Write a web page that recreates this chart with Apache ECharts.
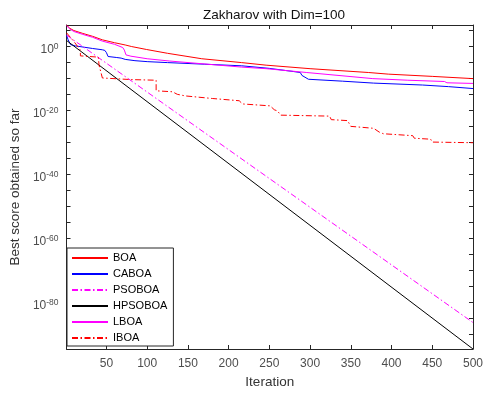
<!DOCTYPE html>
<html>
<head>
<meta charset="utf-8">
<script src="https://cdn.jsdelivr.net/npm/echarts@6/dist/echarts.min.js"></script>
<style>html,body{margin:0;padding:0;background:#fff}#c{width:486px;height:394px}</style>
</head>
<body>
<div id="c"></div>
<script>
// ---- data (iteration, log10 of best score) ----
const seriesNames = ['BOA', 'CABOA', 'PSOBOA', 'HPSOBOA', 'LBOA', 'IBOA'];

const boaIter = [1, 5, 10, 21, 33, 45, 60, 73, 81, 99, 125, 167, 216, 246, 300, 372, 396, 450, 500];
const boaLog  = [6.6, 5.6, 4.9, 4.0, 3.1, 2.0, 1.1, 0.4, -0.1, -1.0, -2.2, -3.9, -5.1, -5.9, -7.0, -8.2, -8.7, -9.4, -10.1];

const caboaIter = [1, 3, 6, 12, 20, 33, 45, 48, 50, 52, 62, 68, 73, 85, 100, 125, 170, 216, 250, 280, 288, 290, 298, 340, 378, 438, 440, 470, 472, 500];
const caboaLog  = [3.4, 2.0, 0.5, 0.1, -0.2, -0.7, -1.1, -1.3, -2.0, -3.2, -3.5, -3.7, -4.1, -4.5, -4.8, -5.1, -5.6, -6.1, -6.9, -7.9, -8.2, -9.1, -10.3, -10.9, -11.5, -12.1, -12.3, -12.6, -12.9, -13.2];

const psoboaIter = [1, 500];
const psoboaLog  = [3.5, -86.2];

const hpsoboaIter = [1, 500];
const hpsoboaLog  = [1.8, -94.46];

const lboaIter = [1, 5, 10, 21, 33, 45, 60, 70, 72, 74, 80, 100, 127, 160, 216, 246, 296, 377, 420, 465, 468, 500];
const lboaLog  = [6.4, 5.4, 4.6, 3.7, 2.8, 1.6, 0.6, -0.4, -1.2, -2.7, -3.1, -3.9, -4.6, -5.3, -6.5, -7.0, -8.2, -10.1, -10.6, -11.0, -11.4, -11.6];

const iboaIter = [1, 10, 18, 18, 40, 41, 45, 80, 111, 111, 131, 137, 147, 180, 213, 217, 251, 256, 260, 264, 324, 326, 346, 350, 378, 385, 390, 426, 428, 448, 450, 500];
const iboaLog  = [4.2, 1.5, -1.2, -3.0, -3.4, -6.0, -9.9, -10.4, -10.6, -13.9, -14.2, -15.0, -15.5, -16.3, -17.0, -18.0, -18.6, -19.8, -20.2, -21.5, -21.8, -22.9, -23.2, -25.0, -25.6, -26.8, -27.3, -27.9, -28.7, -29.0, -29.9, -30.1];

const xTicks = [50, 100, 150, 200, 250, 300, 350, 400, 450, 500];
const yTickExps = [5, 0, -5, -10, -15, -20, -25, -30, -35, -40, -45, -50, -55, -60, -65, -70, -75, -80, -85, -90];
const yLabelExps = [0, -20, -40, -60, -80];
const yMinExp = -94.46, yMaxExp = 6.63;
const xMin = 1, xMax = 500;

// ---- build ----
const toVal = e => Math.pow(10, e);
const pairs = (xs, es) => xs.map((x, i) => [x, toVal(es[i])]);
const dashDot = [6, 2.5, 1.5, 2.5];
const styles = {
  BOA:     { color: '#ff0000', type: 'solid' },
  CABOA:   { color: '#0000ff', type: 'solid' },
  PSOBOA:  { color: '#ff00ff', type: dashDot },
  HPSOBOA: { color: '#000000', type: 'solid' },
  LBOA:    { color: '#ff00ff', type: 'solid' },
  IBOA:    { color: '#ff0000', type: dashDot }
};
const dataMap = {
  BOA: pairs(boaIter, boaLog),
  CABOA: pairs(caboaIter, caboaLog),
  PSOBOA: pairs(psoboaIter, psoboaLog),
  HPSOBOA: pairs(hpsoboaIter, hpsoboaLog),
  LBOA: pairs(lboaIter, lboaLog),
  IBOA: pairs(iboaIter, iboaLog)
};

const axisColor = '#262626';
const labelColor = '#4d4d4d';
const font = 'Liberation Sans, Arial, sans-serif';
const yTickVals = yTickExps.map(toVal);
const yLabelVals = yLabelExps.map(toVal);

const xAxisBase = {
  type: 'value', min: xMin, max: xMax,
  splitLine: { show: false },
  axisLine: { show: true, onZero: false, lineStyle: { color: axisColor, width: 1 } },
  axisTick: { show: true, inside: true, length: 4, customValues: xTicks, lineStyle: { color: axisColor } }
};
const yAxisBase = {
  type: 'log', logBase: 10, min: toVal(yMinExp), max: toVal(yMaxExp),
  splitLine: { show: false },
  axisLine: { show: true, onZero: false, lineStyle: { color: axisColor, width: 1 } },
  axisTick: { show: true, inside: true, length: 4, customValues: yTickVals, lineStyle: { color: axisColor } }
};

const option = {
  animation: false,
  backgroundColor: '#ffffff',
  textStyle: { fontFamily: font },
  title: {
    text: 'Zakharov with Dim=100',
    left: 269, top: 3, textAlign: 'center',
    textStyle: { fontFamily: font, fontSize: 13.5, fontWeight: 'normal', color: '#111' }
  },
  grid: { left: 62, right: 10, top: 25, bottom: 42, containLabel: false },
  legend: {
    orient: 'vertical', left: 67, top: 248,
    data: seriesNames,
    itemWidth: 36, itemHeight: 14, itemGap: 2,
    padding: [3, 6, 1, 4],
    itemStyle: { opacity: 0 },
    borderColor: axisColor, borderWidth: 1, backgroundColor: '#ffffff',
    textStyle: { fontFamily: font, fontSize: 11, color: '#000', lineHeight: 14 }
  },
  xAxis: [
    Object.assign({}, xAxisBase, {
      position: 'bottom',
      name: 'Iteration', nameLocation: 'middle', nameGap: 26,
      nameTextStyle: { fontFamily: font, fontSize: 13.5, color: '#333' },
      axisLabel: { show: true, customValues: xTicks, margin: 9, fontSize: 12, color: labelColor, fontFamily: font }
    }),
    Object.assign({}, xAxisBase, { position: 'top', axisLabel: { show: false } })
  ],
  yAxis: [
    Object.assign({}, yAxisBase, {
      position: 'left',
      name: 'Best score obtained so far', nameLocation: 'middle', nameGap: 40,
      nameTextStyle: { fontFamily: font, fontSize: 13.5, color: '#333' },
      axisLabel: {
        show: true, customValues: yLabelVals, margin: 8, padding: [5, 0, 0, 0],
        formatter: v => '{b|10}{s|' + Math.round(Math.log10(Number(v))) + '}',
        rich: {
          b: { fontSize: 12, color: labelColor, fontFamily: font, verticalAlign: 'bottom' },
          s: { fontSize: 8.5, color: labelColor, fontFamily: font, verticalAlign: 'bottom', padding: [0, 0, 5, 0] }
        }
      }
    }),
    Object.assign({}, yAxisBase, { position: 'right', axisLabel: { show: false } })
  ],
  series: seriesNames.map(n => ({
    name: n, type: 'line', xAxisIndex: 0, yAxisIndex: 0,
    data: dataMap[n], showSymbol: false, symbol: 'none',
    color: styles[n].color,
    lineStyle: { color: styles[n].color, width: 1, type: styles[n].type },
    emphasis: { disabled: true }
  }))
};

const chart = echarts.init(document.getElementById('c'), null, { renderer: 'canvas' });
chart.setOption(option);
</script>
</body>
</html>
